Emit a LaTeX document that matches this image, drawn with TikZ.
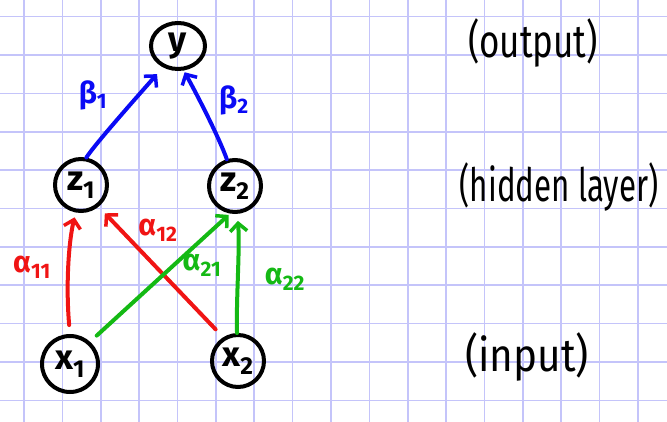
\documentclass[tikz,border=0pt]{standalone}
\usepackage{fontspec}
\setmainfont{Fira Sans}
\usetikzlibrary{arrows.meta,shapes.geometric}
\definecolor{gridc}{RGB}{196,196,250}
\definecolor{hblue}{RGB}{10,10,245}
\definecolor{hred}{RGB}{240,20,20}
\definecolor{hgreen}{RGB}{20,185,20}
\tikzset{
  neuron/.style={circle, draw=black, line width=4pt, minimum size=52pt, inner sep=0pt, font=\fontsize{35}{37}\selectfont\bfseries},
  conn/.style={line width=4pt, line cap=round, -{Straight Barb[length=8pt,width=17pt,line width=3.5pt]}},
  wlabel/.style={font=\fontsize{30}{32}\selectfont\bfseries, inner sep=0pt},
  layerlabel/.style={font=\fontsize{46}{48}\selectfont, inner sep=0pt}
}
\begin{document}
\begin{tikzpicture}[x=1pt,y=-1pt]
\useasboundingbox (0,0) rectangle (667,422);
\fill[white] (0,0) rectangle (667,422);
% grid
\foreach \k in {0,...,16} {
  \draw[gridc, line width=1.6pt] ({24+38.37*\k},0) -- ({24+38.37*\k},422);
}
\foreach \k in {0,...,10} {
  \draw[gridc, line width=1.6pt] (0,{16.7+38.37*\k}) -- (667,{16.7+38.37*\k});
}
% nodes
\node[neuron, ellipse, minimum width=54pt, minimum height=46pt] (y) at (178,46) {y};
\node[neuron] (z1) at (81,185) {z\textsubscript{1}};
\node[neuron] (z2) at (235,186) {z\textsubscript{2}};
\node[neuron, minimum size=56pt] (x1) at (70,364) {x\textsubscript{1}};
\node[neuron] (x2) at (238,361) {x\textsubscript{2}};
% blue
\draw[conn, hblue, shorten >=9pt] (z1.79) .. controls (94,146) and (120,116) .. (y.235);
\draw[conn, hblue, shorten >=2pt] (z2.107) .. controls (220,140) and (200,100) .. (y.283);
% red
\draw[conn, hred, shorten <=9pt, shorten >=5pt] (x1.90) .. controls (66,290) and (68,245) .. (z1.259);
\draw[conn, hred, shorten <=11pt, shorten >=9pt] (x2.122) -- (z1.309);
% green
\draw[conn, hgreen, shorten <=9pt, shorten >=2pt] (x1.48) -- (z2.260);
\draw[conn, hgreen, shorten >=7pt] (x2.92) .. controls (236,300) and (240,250) .. (z2.275);
% weight labels
\node[wlabel, hblue] (b1) at (93,95) {β\textsubscript{1}};
\node[wlabel, hblue] (b2) at (234,100) {β\textsubscript{2}};
\node[wlabel, hred] (a11) at (32,267) {α\textsubscript{11}};
\node[wlabel, hred] (a12) at (158,230) {α\textsubscript{12}};
\node[wlabel, hgreen] (a21) at (202,265) {α\textsubscript{21}};
\node[wlabel, hgreen] (a22) at (285,279) {α\textsubscript{22}};
% layer labels
\node[layerlabel] (lo) at (533,43) {\scalebox{0.76}[1]{(output)}};
\node[layerlabel] (lh) at (559,187) {\scalebox{0.68}[1]{(hidden layer)}};
\node[layerlabel] (li) at (527,357) {\scalebox{0.88}[1]{(input)}};
\end{tikzpicture}
\end{document}
